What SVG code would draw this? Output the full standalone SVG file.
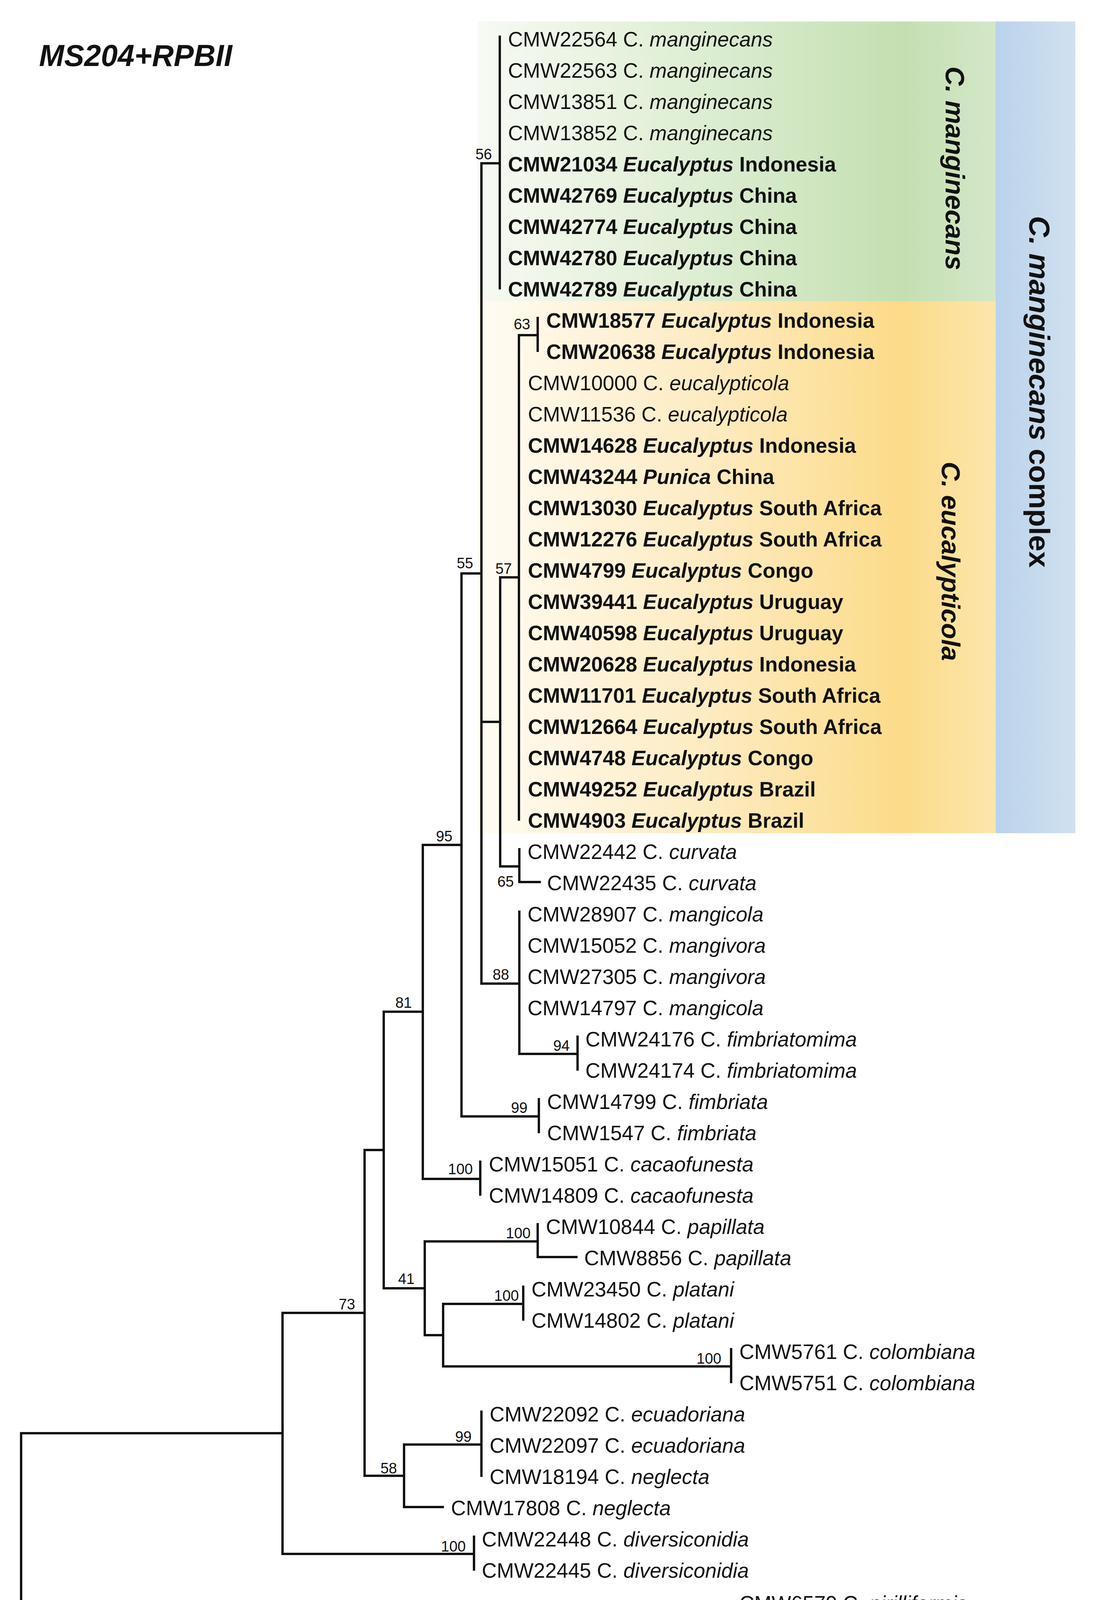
<svg xmlns="http://www.w3.org/2000/svg" width="2815" height="4292" viewBox="0 0 2815 4292">
<style>
text{font-family:"Liberation Sans",Arial,sans-serif;fill:#111}
.lf{font-size:53px}
.bd{font-weight:bold}
.it{font-style:italic}
.bs{font-size:38px;text-anchor:end}
.cl{font-weight:bold;font-style:italic;text-anchor:middle}
.edge{fill:none;stroke:#111;stroke-width:6;stroke-linecap:square}
</style>
<defs>
<linearGradient id="gGreen" x1="0" y1="0" x2="1" y2="0">
<stop offset="0" stop-color="#f7faf3"/>
<stop offset="0.45" stop-color="#dcedd1"/>
<stop offset="0.82" stop-color="#c4dfb1"/>
<stop offset="1" stop-color="#d4e7c8"/>
</linearGradient>
<linearGradient id="gYellow" x1="0" y1="0" x2="1" y2="0">
<stop offset="0" stop-color="#fffcf3"/>
<stop offset="0.45" stop-color="#fdebc0"/>
<stop offset="0.82" stop-color="#fcdb89"/>
<stop offset="1" stop-color="#fce6ad"/>
</linearGradient>
<linearGradient id="gBlue" x1="0" y1="0" x2="1" y2="0">
<stop offset="0" stop-color="#bad3ec"/>
<stop offset="1" stop-color="#d1e0ef"/>
</linearGradient>
</defs>
<rect width="2815" height="4292" fill="#fff"/>
<g id="clade-boxes">
<rect id="box-manginecans" x="1222" y="55" width="1326" height="716" fill="url(#gGreen)"/>
<rect id="box-eucalypticola" x="1222" y="771" width="1326" height="1362" fill="url(#gYellow)"/>
<rect id="box-complex" x="2548" y="55" width="204" height="2078" fill="url(#gBlue)"/>
</g>
<g id="clade-labels">
<text class="cl" font-size="68" transform="translate(2420,431) rotate(90)">C. manginecans</text>
<text class="cl" font-size="67" transform="translate(2410,1437) rotate(90)">C. eucalypticola</text>
<text font-size="75" font-weight="bold" text-anchor="middle" transform="translate(2634,1003) rotate(90)"><tspan font-style="italic">C. manginecans</tspan> complex</text>
</g>
<text id="title" x="100" y="169" font-size="77" font-weight="bold" font-style="italic">MS204+RPBII</text>
<g id="connectors">
<path class="edge" d="M54 3669V4106M54 3669H723M54 4106H1871
M723 3361V3978M723 3361H933M723 3978H1213
M933 2944V3778M933 2944H982M933 3778H1034
M982 2590V3298M982 2590H1082M982 3298H1087
M1082 2163V3018M1082 2163H1181M1082 3018H1229
M1181 1468V2858M1181 1468H1232M1181 2858H1379
M1232 418V2518M1232 418H1279M1232 1848H1280M1232 2518H1329
M1279 94V738
M1280 1478V2218M1280 1478H1328M1280 2218H1329
M1328 858V2098M1328 858H1376
M1376 814V898
M1329 2174V2258M1329 2258H1381
M1329 2334V2698M1329 2698H1478
M1478 2654V2738
M1379 2814V2898
M1229 2974V3058
M1087 3178V3418M1087 3178H1376M1087 3418H1134
M1376 3134V3218M1376 3218H1475
M1134 3338V3498M1134 3338H1339M1134 3498H1871
M1339 3294V3378
M1871 3454V3538
M1034 3698V3858M1034 3698H1232M1034 3858H1133
M1232 3614V3778
M1213 3934V4018"/>
</g>
<g id="support-values">
<text id="n56" class="bs" x="1259" y="408">56</text>
<text id="n63" class="bs" x="1357" y="843">63</text>
<text id="n57" class="bs" x="1310" y="1469">57</text>
<text id="n55" class="bs" x="1211" y="1455">55</text>
<text id="n65" class="bs" x="1315" y="2270">65</text>
<text id="n88" class="bs" x="1303" y="2508">88</text>
<text id="n94" class="bs" x="1458" y="2690">94</text>
<text id="n99a" class="bs" x="1350" y="2849">99</text>
<text id="n95" class="bs" x="1158" y="2154">95</text>
<text id="n81" class="bs" x="1054" y="2580">81</text>
<text id="n100a" class="bs" x="1210" y="3006">100</text>
<text id="n100b" class="bs" x="1358" y="3170">100</text>
<text id="n100c" class="bs" x="1328" y="3330">100</text>
<text id="n100d" class="bs" x="1846" y="3491">100</text>
<text id="n99b" class="bs" x="1207" y="3691">99</text>
<text id="n100e" class="bs" x="1192" y="3972">100</text>
<text id="n41" class="bs" x="1061" y="3287">41</text>
<text id="n73" class="bs" x="909" y="3352">73</text>
<text id="n58" class="bs" x="1016" y="3772">58</text>
</g>
<g id="leaves" class="lf">
<g id="leaf1"><text class="lf" x="1300" y="119">CMW22564 C. <tspan class="it">manginecans</tspan></text></g>
<g id="leaf2"><text class="lf" x="1300" y="199">CMW22563 C. <tspan class="it">manginecans</tspan></text></g>
<g id="leaf3"><text class="lf" x="1300" y="279">CMW13851 C. <tspan class="it">manginecans</tspan></text></g>
<g id="leaf4"><text class="lf" x="1300" y="359">CMW13852 C. <tspan class="it">manginecans</tspan></text></g>
<g id="leaf5"><text class="lf bd" x="1300" y="439">CMW21034 <tspan class="it">Eucalyptus</tspan> Indonesia</text></g>
<g id="leaf6"><text class="lf bd" x="1300" y="519">CMW42769 <tspan class="it">Eucalyptus</tspan> China</text></g>
<g id="leaf7"><text class="lf bd" x="1300" y="599">CMW42774 <tspan class="it">Eucalyptus</tspan> China</text></g>
<g id="leaf8"><text class="lf bd" x="1300" y="679">CMW42780 <tspan class="it">Eucalyptus</tspan> China</text></g>
<g id="leaf9"><text class="lf bd" x="1300" y="759">CMW42789 <tspan class="it">Eucalyptus</tspan> China</text></g>
<g id="leaf10"><text class="lf bd" x="1398" y="839">CMW18577 <tspan class="it">Eucalyptus</tspan> Indonesia</text></g>
<g id="leaf11"><text class="lf bd" x="1398" y="919">CMW20638 <tspan class="it">Eucalyptus</tspan> Indonesia</text></g>
<g id="leaf12"><text class="lf" x="1351" y="999">CMW10000 C. <tspan class="it">eucalypticola</tspan></text></g>
<g id="leaf13"><text class="lf" x="1351" y="1079">CMW11536 C. <tspan class="it">eucalypticola</tspan></text></g>
<g id="leaf14"><text class="lf bd" x="1351" y="1159">CMW14628 <tspan class="it">Eucalyptus</tspan> Indonesia</text></g>
<g id="leaf15"><text class="lf bd" x="1351" y="1239">CMW43244 <tspan class="it">Punica</tspan> China</text></g>
<g id="leaf16"><text class="lf bd" x="1351" y="1319">CMW13030 <tspan class="it">Eucalyptus</tspan> South Africa</text></g>
<g id="leaf17"><text class="lf bd" x="1351" y="1399">CMW12276 <tspan class="it">Eucalyptus</tspan> South Africa</text></g>
<g id="leaf18"><text class="lf bd" x="1351" y="1479">CMW4799 <tspan class="it">Eucalyptus</tspan> Congo</text></g>
<g id="leaf19"><text class="lf bd" x="1351" y="1559">CMW39441 <tspan class="it">Eucalyptus</tspan> Uruguay</text></g>
<g id="leaf20"><text class="lf bd" x="1351" y="1639">CMW40598 <tspan class="it">Eucalyptus</tspan> Uruguay</text></g>
<g id="leaf21"><text class="lf bd" x="1351" y="1719">CMW20628 <tspan class="it">Eucalyptus</tspan> Indonesia</text></g>
<g id="leaf22"><text class="lf bd" x="1351" y="1799">CMW11701 <tspan class="it">Eucalyptus</tspan> South Africa</text></g>
<g id="leaf23"><text class="lf bd" x="1351" y="1879">CMW12664 <tspan class="it">Eucalyptus</tspan> South Africa</text></g>
<g id="leaf24"><text class="lf bd" x="1351" y="1959">CMW4748 <tspan class="it">Eucalyptus</tspan> Congo</text></g>
<g id="leaf25"><text class="lf bd" x="1351" y="2039">CMW49252 <tspan class="it">Eucalyptus</tspan> Brazil</text></g>
<g id="leaf26"><text class="lf bd" x="1351" y="2119">CMW4903 <tspan class="it">Eucalyptus</tspan> Brazil</text></g>
<g id="leaf27"><text class="lf" x="1350" y="2199">CMW22442 C. <tspan class="it">curvata</tspan></text></g>
<g id="leaf28"><text class="lf" x="1400" y="2279">CMW22435 C. <tspan class="it">curvata</tspan></text></g>
<g id="leaf29"><text class="lf" x="1350" y="2359">CMW28907 C. <tspan class="it">mangicola</tspan></text></g>
<g id="leaf30"><text class="lf" x="1350" y="2439">CMW15052 C. <tspan class="it">mangivora</tspan></text></g>
<g id="leaf31"><text class="lf" x="1350" y="2519">CMW27305 C. <tspan class="it">mangivora</tspan></text></g>
<g id="leaf32"><text class="lf" x="1350" y="2599">CMW14797 C. <tspan class="it">mangicola</tspan></text></g>
<g id="leaf33"><text class="lf" x="1498" y="2679">CMW24176 C. <tspan class="it">fimbriatomima</tspan></text></g>
<g id="leaf34"><text class="lf" x="1498" y="2759">CMW24174 C. <tspan class="it">fimbriatomima</tspan></text></g>
<g id="leaf35"><text class="lf" x="1400" y="2839">CMW14799 C. <tspan class="it">fimbriata</tspan></text></g>
<g id="leaf36"><text class="lf" x="1400" y="2919">CMW1547 C. <tspan class="it">fimbriata</tspan></text></g>
<g id="leaf37"><text class="lf" x="1251" y="2999">CMW15051 C. <tspan class="it">cacaofunesta</tspan></text></g>
<g id="leaf38"><text class="lf" x="1251" y="3079">CMW14809 C. <tspan class="it">cacaofunesta</tspan></text></g>
<g id="leaf39"><text class="lf" x="1397" y="3159">CMW10844 C. <tspan class="it">papillata</tspan></text></g>
<g id="leaf40"><text class="lf" x="1495" y="3239">CMW8856 C. <tspan class="it">papillata</tspan></text></g>
<g id="leaf41"><text class="lf" x="1360" y="3319">CMW23450 C. <tspan class="it">platani</tspan></text></g>
<g id="leaf42"><text class="lf" x="1360" y="3399">CMW14802 C. <tspan class="it">platani</tspan></text></g>
<g id="leaf43"><text class="lf" x="1892" y="3479">CMW5761 C. <tspan class="it">colombiana</tspan></text></g>
<g id="leaf44"><text class="lf" x="1892" y="3559">CMW5751 C. <tspan class="it">colombiana</tspan></text></g>
<g id="leaf45"><text class="lf" x="1253" y="3639">CMW22092 C. <tspan class="it">ecuadoriana</tspan></text></g>
<g id="leaf46"><text class="lf" x="1253" y="3719">CMW22097 C. <tspan class="it">ecuadoriana</tspan></text></g>
<g id="leaf47"><text class="lf" x="1253" y="3799">CMW18194 C. <tspan class="it">neglecta</tspan></text></g>
<g id="leaf48"><text class="lf" x="1154" y="3879">CMW17808 C. <tspan class="it">neglecta</tspan></text></g>
<g id="leaf49"><text class="lf" x="1233" y="3959">CMW22448 C. <tspan class="it">diversiconidia</tspan></text></g>
<g id="leaf50"><text class="lf" x="1233" y="4039">CMW22445 C. <tspan class="it">diversiconidia</tspan></text></g>
<g id="leaf51"><text class="lf" x="1892" y="4123">CMW6579 C. <tspan class="it">pirilliformis</tspan></text></g>
</g>
<g id="scale-bar">
<path class="edge" d="M168 4216H266M168 4207V4225M266 4207V4225"/>
<text x="218" y="4265" font-size="38" text-anchor="middle">0.001</text>
</g>
</svg>
